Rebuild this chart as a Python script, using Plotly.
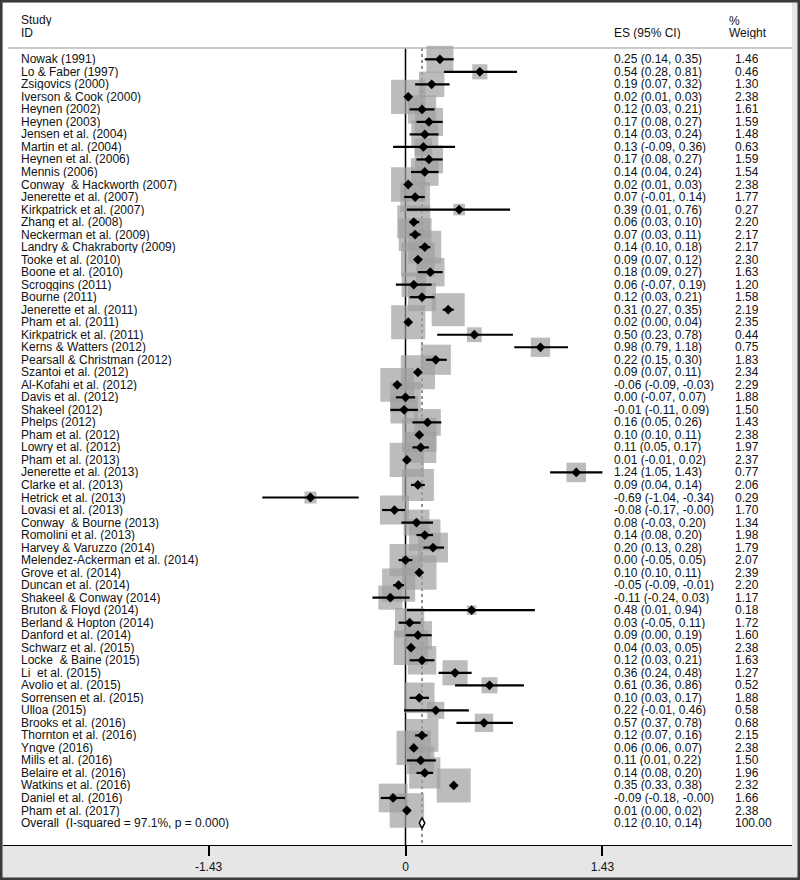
import plotly.graph_objects as go

studies = [
    "Nowak (1991)", "Lo & Faber (1997)", "Zsigovics (2000)", "Iverson & Cook (2000)",
    "Heynen (2002)", "Heynen (2003)", "Jensen et al. (2004)", "Martin et al. (2004)",
    "Heynen et al. (2006)", "Mennis (2006)", "Conway  & Hackworth (2007)",
    "Jenerette et al. (2007)", "Kirkpatrick et al. (2007)", "Zhang et al. (2008)",
    "Neckerman et al. (2009)", "Landry & Chakraborty (2009)", "Tooke et al. (2010)",
    "Boone et al. (2010)", "Scroggins (2011)", "Bourne (2011)", "Jenerette et al. (2011)",
    "Pham et al. (2011)", "Kirkpatrick et al. (2011)", "Kerns & Watters (2012)",
    "Pearsall & Christman (2012)", "Szantoi et al. (2012)", "Al-Kofahi et al. (2012)",
    "Davis et al. (2012)", "Shakeel (2012)", "Phelps (2012)", "Pham et al. (2012)",
    "Lowry et al. (2012)", "Pham et al. (2013)", "Jenerette et al. (2013)",
    "Clarke et al. (2013)", "Hetrick et al. (2013)", "Lovasi et al. (2013)",
    "Conway  & Bourne (2013)", "Romolini et al. (2013)", "Harvey & Varuzzo (2014)",
    "Melendez-Ackerman et al. (2014)", "Grove et al. (2014)", "Duncan et al. (2014)",
    "Shakeel & Conway (2014)", "Bruton & Floyd (2014)", "Berland & Hopton (2014)",
    "Danford et al. (2014)", "Schwarz et al. (2015)", "Locke  & Baine (2015)",
    "Li  et al. (2015)", "Avolio et al. (2015)", "Sorrensen et al. (2015)", "Ulloa (2015)",
    "Brooks et al. (2016)", "Thornton et al. (2016)", "Yngve (2016)", "Mills et al. (2016)",
    "Belaire et al. (2016)", "Watkins et al. (2016)", "Daniel et al. (2016)",
    "Pham et al. (2017)",
]
es = [0.25, 0.54, 0.19, 0.02, 0.12, 0.17, 0.14, 0.13, 0.17, 0.14, 0.02, 0.07, 0.39, 0.06,
      0.07, 0.14, 0.09, 0.18, 0.06, 0.12, 0.31, 0.02, 0.50, 0.98, 0.22, 0.09, -0.06, 0.00,
      -0.01, 0.16, 0.10, 0.11, 0.01, 1.24, 0.09, -0.69, -0.08, 0.08, 0.14, 0.20, 0.00, 0.10,
      -0.05, -0.11, 0.48, 0.03, 0.09, 0.04, 0.12, 0.36, 0.61, 0.10, 0.22, 0.57, 0.12, 0.06,
      0.11, 0.14, 0.35, -0.09, 0.01]
ci_lo = [0.14, 0.28, 0.07, 0.01, 0.03, 0.08, 0.03, -0.09, 0.08, 0.04, 0.01, -0.01, 0.01, 0.03,
         0.03, 0.10, 0.07, 0.09, -0.07, 0.03, 0.27, 0.00, 0.23, 0.79, 0.15, 0.07, -0.09, -0.07,
         -0.11, 0.05, 0.10, 0.05, -0.01, 1.05, 0.04, -1.04, -0.17, -0.03, 0.08, 0.13, -0.05,
         0.10, -0.09, -0.24, 0.01, -0.05, 0.00, 0.03, 0.03, 0.24, 0.36, 0.03, -0.01, 0.37, 0.07,
         0.06, 0.01, 0.08, 0.33, -0.18, 0.00]
ci_hi = [0.35, 0.81, 0.32, 0.03, 0.21, 0.27, 0.24, 0.36, 0.27, 0.24, 0.03, 0.14, 0.76, 0.10,
         0.11, 0.18, 0.12, 0.27, 0.19, 0.21, 0.35, 0.04, 0.78, 1.18, 0.30, 0.11, -0.03, 0.07,
         0.09, 0.26, 0.11, 0.17, 0.02, 1.43, 0.14, -0.34, -0.004, 0.20, 0.20, 0.28, 0.05, 0.11,
         -0.01, 0.03, 0.94, 0.11, 0.19, 0.05, 0.21, 0.48, 0.86, 0.17, 0.46, 0.78, 0.16, 0.07,
         0.22, 0.20, 0.38, -0.004, 0.02]
weight = [1.46, 0.46, 1.30, 2.38, 1.61, 1.59, 1.48, 0.63, 1.59, 1.54, 2.38, 1.77, 0.27, 2.20,
          2.17, 2.17, 2.30, 1.63, 1.20, 1.58, 2.19, 2.35, 0.44, 0.75, 1.83, 2.34, 2.29, 1.88,
          1.50, 1.43, 2.38, 1.97, 2.37, 0.77, 2.06, 0.29, 1.70, 1.34, 1.98, 1.79, 2.07, 2.39,
          2.20, 1.17, 0.18, 1.72, 1.60, 2.38, 1.63, 1.27, 0.52, 1.88, 0.58, 0.68, 2.15, 2.38,
          1.50, 1.96, 2.32, 1.66, 2.38]

overall_label = "Overall  (I-squared = 97.1%, p = 0.000)"
overall_es, overall_lo, overall_hi, overall_wt = 0.12, 0.10, 0.14, 100.00

tick_vals = [-1.43, 0, 1.43]
tick_text = ["-1.43", "0", "1.43"]

# page geometry (pixels)
W, H = 800, 880
ML, MR, MT, MB = 3, 8, 3, 35
X0PX, XSCALE = 405.5, 137.7     # pixel of effect 0, pixels per unit
Y0PX, YSTEP = 59.3, 12.52       # pixel of first row, pixels per row
FONT = "Arial, Liberation Sans, sans-serif"


def px_x(p):
    return (p - X0PX) / XSCALE


def px_y(q):
    return (q - Y0PX) / YSTEP


rows = list(range(len(studies)))
overall_row = len(studies)
axis_bottom = px_y(H - MB)
top_line = px_y(48)

fig = go.Figure()

# weight boxes
fig.add_trace(go.Scatter(
    x=es, y=rows, mode="markers",
    marker=dict(symbol="square", size=[22.3 * w ** 0.5 for w in weight],
                color="#a0a0a0", line=dict(width=0)),
    hoverinfo="skip"))

# point estimates with CI
fig.add_trace(go.Scatter(
    x=es, y=rows, mode="markers",
    marker=dict(symbol="diamond", size=7.5, color="black", line=dict(width=0)),
    error_x=dict(type="data", symmetric=False,
                 array=[h - e for h, e in zip(ci_hi, es)],
                 arrayminus=[e - l for e, l in zip(es, ci_lo)],
                 width=0, thickness=2.2, color="black"),
    hoverinfo="skip"))

# overall diamond
fig.add_trace(go.Scatter(
    x=[overall_lo, overall_es, overall_hi, overall_es, overall_lo],
    y=[overall_row, overall_row - 0.42, overall_row, overall_row + 0.42, overall_row],
    mode="lines", fill="toself", fillcolor="white",
    line=dict(color="black", width=1.5), hoverinfo="skip"))

shapes = [
    # null line
    dict(type="line", xref="x", yref="y", x0=0, x1=0, y0=top_line, y1=axis_bottom,
         line=dict(color="black", width=1.5), layer="below"),
    # overall line
    dict(type="line", xref="x", yref="y", x0=overall_es, x1=overall_es,
         y0=top_line, y1=axis_bottom,
         line=dict(color="#222", width=1, dash="3px,3px"), layer="below"),
    # header rule
    dict(type="line", xref="x", yref="y", x0=px_x(8), x1=px_x(W - MR), y0=top_line,
         y1=top_line, line=dict(color="#b8b8b8", width=1.5), layer="below"),
    # outer frame
    dict(type="rect", xref="paper", yref="paper",
         x0=(1 - ML) / (W - ML - MR), x1=(W - 1 - ML) / (W - ML - MR),
         y0=1 - (H - 1 - MT) / (H - MT - MB), y1=1 - (1 - MT) / (H - MT - MB),
         line=dict(color="#3a3a3a", width=3)),
]

annotations = []


def txt(x_px, y, s):
    annotations.append(dict(x=px_x(x_px), y=y, xref="x", yref="y", text=s,
                            showarrow=False, xanchor="left", yanchor="middle",
                            height=12, borderpad=0,
                            font=dict(family=FONT, size=12, color="#111")))


txt(20, px_y(20), "Study")
txt(20, px_y(33), "ID")
txt(613, px_y(33), "ES (95% CI)")
txt(728, px_y(21), "%")
txt(728, px_y(33), "Weight")

for i, s in enumerate(studies):
    txt(20, i, s)
    txt(613, i, f"{es[i]:.2f} ({ci_lo[i]:.2f}, {ci_hi[i]:.2f})")
    txt(734, i, f"{weight[i]:.2f}")

txt(20, overall_row, overall_label)
txt(613, overall_row, f"{overall_es:.2f} ({overall_lo:.2f}, {overall_hi:.2f})")
txt(734, overall_row, f"{overall_wt:.2f}")

fig.update_layout(
    width=W, height=H,
    margin=dict(l=ML, r=MR, t=MT, b=MB),
    paper_bgcolor="#e6e6e6", plot_bgcolor="white",
    showlegend=False,
    shapes=shapes, annotations=annotations,
    font=dict(family=FONT, size=12, color="#111"),
)
fig.update_xaxes(range=[px_x(ML), px_x(W - MR)], showgrid=False, zeroline=False,
                 showline=True, linecolor="black", linewidth=1.2,
                 tickvals=tick_vals, ticktext=tick_text, ticks="outside",
                 ticklen=10, tickwidth=1.5, tickcolor="black",
                 tickfont=dict(family=FONT, size=12, color="#111"))
fig.update_yaxes(range=[axis_bottom, px_y(MT)], visible=False, showgrid=False)

# page body has a default 8px margin; drop it so the figure fills the window
fig.write_html("out.html", config={"displayModeBar": False},
               post_script="document.body.style.margin='0';")
